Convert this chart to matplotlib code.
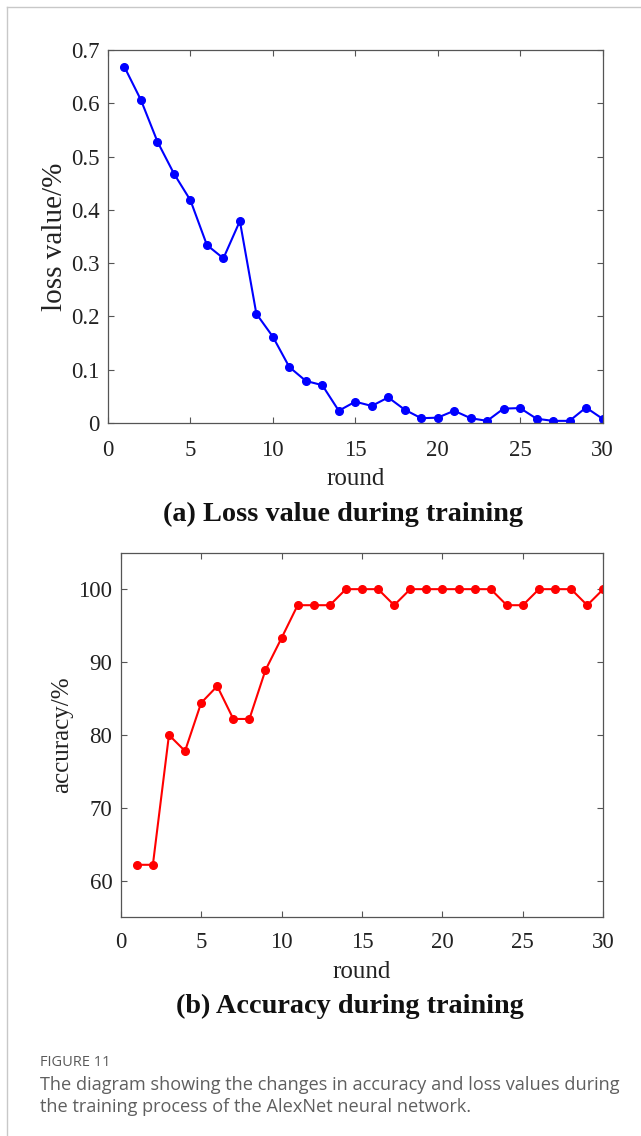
import numpy as np
import matplotlib
matplotlib.use('Agg')
import matplotlib.pyplot as plt
from matplotlib.lines import Line2D

# data
rounds = np.arange(1, 31)
loss = [0.668, 0.606, 0.528, 0.468, 0.418, 0.334, 0.309, 0.379, 0.205, 0.162,
        0.105, 0.079, 0.071, 0.023, 0.040, 0.032, 0.048, 0.025, 0.009, 0.010,
        0.023, 0.009, 0.004, 0.027, 0.028, 0.008, 0.004, 0.004, 0.029, 0.008]
accuracy = [62.2, 62.2, 80.0, 77.8, 84.4, 86.7, 82.2, 82.2, 88.9, 93.3,
            97.8, 97.8, 97.8, 100, 100, 100, 97.8, 100, 100, 100,
            100, 100, 100, 97.8, 97.8, 100, 100, 100, 97.8, 100]
x_ticks = [0, 5, 10, 15, 20, 25, 30]
loss_ticks = [0, 0.1, 0.2, 0.3, 0.4, 0.5, 0.6, 0.7]
loss_ticklabels = ['0', '0.1', '0.2', '0.3', '0.4', '0.5', '0.6', '0.7']
acc_ticks = [60, 70, 80, 90, 100]

plt.rcParams['font.family'] = ['Liberation Serif', 'DejaVu Serif']
fs = 16.5

fig = plt.figure(figsize=(6.41, 11.36), dpi=100)

# card border (top and left)
fig.add_artist(Line2D([7/641, 1], [1 - 7/1136, 1 - 7/1136], color='#c8c8c8', lw=1))
fig.add_artist(Line2D([7/641, 7/641], [0, 1 - 7/1136], color='#c8c8c8', lw=1))


def style_axes(ax, xpad):
    for sp in ax.spines.values():
        sp.set_color('#555555')
        sp.set_linewidth(0.9)
    ax.tick_params(direction='in', top=True, right=True, length=4, width=0.8,
                   color='#555555', labelsize=fs, labelcolor='#222222', pad=6)
    ax.tick_params(axis='x', pad=xpad)


ax1 = fig.add_axes([108/641, 1 - 423/1136, 494.5/641, 373/1136])
ax1.plot(rounds, loss, '-o', color='#0000ff', lw=1.5, ms=5.5)
ax1.set_xlim(0, 30)
ax1.set_ylim(0, 0.7)
ax1.set_xticks(x_ticks)
ax1.set_yticks(loss_ticks)
ax1.set_yticklabels(loss_ticklabels)
ax1.set_xlabel('round', fontsize=18, color='#222222', labelpad=5)
ax1.set_ylabel('loss value/%', fontsize=21, color='#222222', labelpad=2)
style_axes(ax1, 12)

ax2 = fig.add_axes([120.7/641, 1 - 917.3/1136, 482.6/641, 364.6/1136])
ax2.plot(rounds, accuracy, '-o', color='#ff0000', lw=1.5, ms=5.5)
ax2.set_xlim(0, 30)
ax2.set_ylim(55, 105)
ax2.set_xticks(x_ticks)
ax2.set_yticks(acc_ticks)
ax2.set_xlabel('round', fontsize=18, color='#222222', labelpad=6)
ax2.set_ylabel('accuracy/%', fontsize=18, color='#222222', labelpad=4)
style_axes(ax2, 10.5)

fig.text(343/641, 1 - 514/1136, '(a) Loss value during training', ha='center', va='center',
         fontsize=20.3, fontweight='bold', color='#111111')
fig.text(350/641, 1 - 1006/1136, '(b) Accuracy during training', ha='center', va='center',
         fontsize=20.3, fontweight='bold', color='#111111')

fig.text(40/641, 1 - 1063/1136, 'FIGURE 11', ha='left', va='center', fontsize=10.5,
         family='Open Sans', fontweight='medium', color='#5a5a5a')
fig.text(40/641, 1 - 1085/1136, 'The diagram showing the changes in accuracy and loss values during',
         ha='left', va='center', fontsize=13.1, family='Open Sans', color='#5f5f5f')
fig.text(40/641, 1 - 1107/1136, 'the training process of the AlexNet neural network.',
         ha='left', va='center', fontsize=13.1, family='Open Sans', color='#5f5f5f')

fig.savefig('out.png', dpi=100, facecolor='white')
